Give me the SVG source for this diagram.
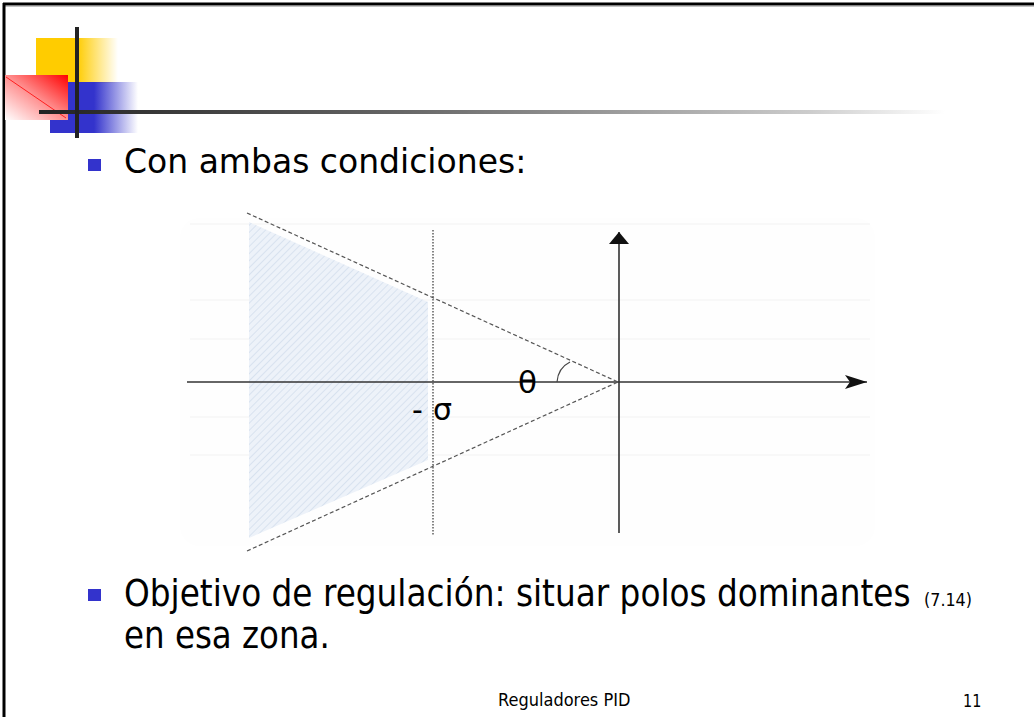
<svg xmlns="http://www.w3.org/2000/svg" width="1034" height="717" viewBox="0 0 1034 717">
<defs>
<style>
.txt{font-family:"DejaVu Sans","Verdana",sans-serif;fill:#000}
.bul{fill:#3333cc}
.axis{stroke:#333;stroke-width:1.6;fill:none}
.dash{stroke:#555;stroke-width:1.2;stroke-dasharray:4 2.5;fill:none}
.dot{stroke:#444;stroke-width:1.3;stroke-dasharray:1.5 1.5;fill:none}
.grid{stroke:#f2f2f2;stroke-width:1}
</style>
<linearGradient id="gY" x1="0" y1="0" x2="1" y2="0">
<stop offset="0" stop-color="#ffcc00"/><stop offset="0.5" stop-color="#ffcc00"/><stop offset="1" stop-color="#ffcc00" stop-opacity="0"/>
</linearGradient>
<linearGradient id="gB" x1="0" y1="0" x2="1" y2="0">
<stop offset="0" stop-color="#3333cc"/><stop offset="0.5" stop-color="#3333cc"/><stop offset="1" stop-color="#3333cc" stop-opacity="0"/>
</linearGradient>
<linearGradient id="gR" x1="1" y1="0" x2="0" y2="1">
<stop offset="0" stop-color="#ff0000"/><stop offset="0.5" stop-color="#ff9090"/><stop offset="1" stop-color="#ffffff"/>
</linearGradient>
<linearGradient id="gH" gradientUnits="userSpaceOnUse" x1="39" y1="0" x2="945" y2="0">
<stop offset="0" stop-color="#222"/><stop offset="0.4" stop-color="#666"/><stop offset="0.85" stop-color="#ccc"/><stop offset="1" stop-color="#fff"/>
</linearGradient>
<pattern id="hatch" width="5" height="5" patternUnits="userSpaceOnUse" patternTransform="rotate(45)">
<rect width="5" height="5" fill="#edf2f9"/>
<line x1="0" y1="0" x2="0" y2="5" stroke="#d8e2ef" stroke-width="2"/>
</pattern>
<marker id="arr" viewBox="0 0 22 14" refX="22" refY="7" markerWidth="22" markerHeight="14" markerUnits="userSpaceOnUse" orient="auto">
<path d="M0,0 L22,7 L0,14 L5,7 Z" fill="#111"/>
</marker>
<marker id="arrUp" viewBox="0 0 12 20" refX="12" refY="10" markerWidth="12" markerHeight="20" markerUnits="userSpaceOnUse" orient="auto">
<path d="M0,0 L12,10 L0,20 Z" fill="#111"/>
</marker>
</defs>
<rect width="1034" height="717" fill="#fff"/>
<g id="frame">
<line x1="3" y1="4" x2="1034" y2="4" stroke="#000" stroke-width="3"/>
<line x1="3" y1="6" x2="1034" y2="6" stroke="#888" stroke-width="1"/>
<line x1="4" y1="3" x2="4" y2="717" stroke="#000" stroke-width="3"/>
</g>
<g id="logo">
<rect x="36" y="38" width="82" height="45" fill="url(#gY)"/>
<rect x="50" y="82" width="88" height="51" fill="url(#gB)"/>
<rect x="5" y="75" width="63" height="45" fill="url(#gR)"/>
<line x1="6" y1="77" x2="66" y2="118" stroke="#ff2020" stroke-width="1"/>
<rect x="39" y="110" width="906" height="4" fill="url(#gH)"/>
<rect x="75" y="27" width="4" height="111" fill="#222"/>
</g>
<g id="bullet1">
<rect class="bul" x="88" y="159" width="13" height="12"/>
<text class="txt" x="124" y="173" font-size="33">Con ambas condiciones:</text>
</g>
<g id="plot">
<rect x="180" y="218" width="695" height="328" rx="20" fill="#fefefe"/>
<line class="grid" x1="190" y1="224" x2="870" y2="224"/>
<line class="grid" x1="190" y1="300" x2="870" y2="300"/>
<line class="grid" x1="190" y1="339" x2="870" y2="339"/>
<line class="grid" x1="190" y1="417" x2="870" y2="417"/>
<line class="grid" x1="190" y1="455" x2="870" y2="455"/>
<polygon id="zone" points="249,222 428,302 428,460 249,538" fill="url(#hatch)"/>
</g>
<g id="connectors">
<line class="axis" x1="187" y1="382" x2="867" y2="382" marker-end="url(#arr)"/>
<line class="axis" x1="619" y1="533" x2="619" y2="232" marker-end="url(#arrUp)"/>
<line class="dash" x1="247" y1="213" x2="618" y2="382"/>
<line class="dash" x1="247" y1="551" x2="618" y2="382"/>
<line class="dot" x1="433" y1="230" x2="433" y2="535"/>
<path d="M557,382 Q558,368 570,362" fill="none" stroke="#444" stroke-width="1.2"/>
</g>
<g id="labels">
<text class="txt" x="518" y="393" font-size="31">θ</text>
<text class="txt" x="412" y="420" font-size="30">-</text>
<text class="txt" x="433" y="420" font-size="30">σ</text>
</g>
<g id="bullet2">
<rect class="bul" x="88" y="589" width="13" height="12"/>
<text class="txt" transform="translate(124,606) scale(0.862,1)" font-size="38">Objetivo de regulación: situar polos dominantes</text>
<text class="txt" transform="translate(924,606) scale(0.94,1)" font-size="17">(7.14)</text>
<text class="txt" transform="translate(124,648) scale(0.855,1)" font-size="38">en esa zona.</text>
</g>
<g id="footer">
<text class="txt" transform="translate(498,706) scale(0.9,1)" font-size="18">Reguladores PID</text>
<text class="txt" transform="translate(963,707) scale(0.8,1)" font-size="18">11</text>
</g>
</svg>
